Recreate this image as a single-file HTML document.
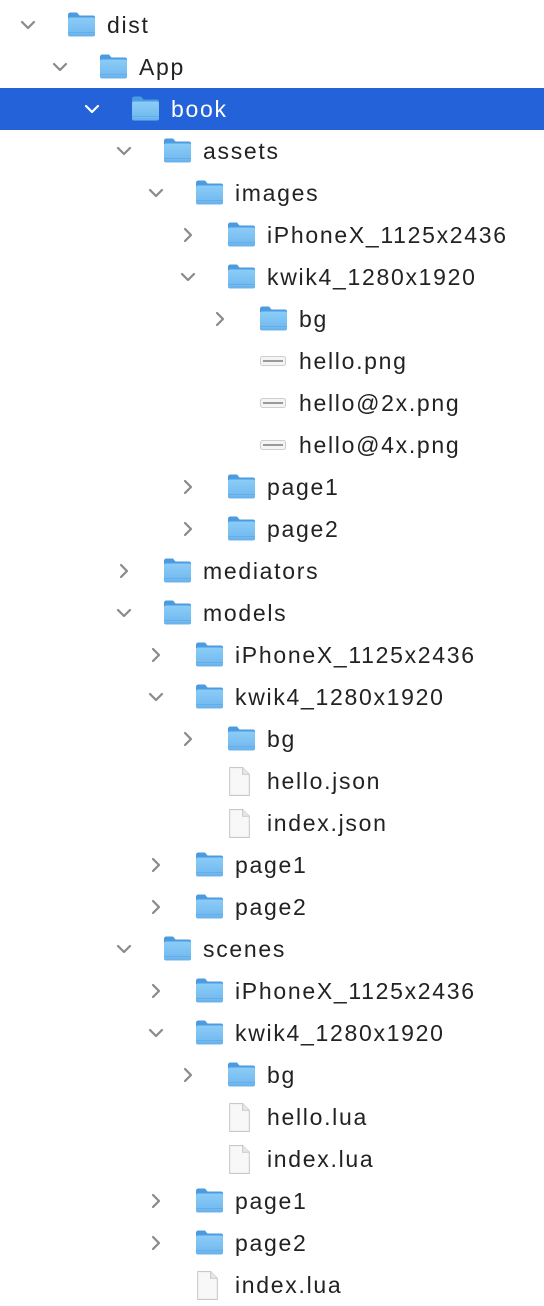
<!DOCTYPE html>
<html><head><meta charset="utf-8"><style>
*{margin:0;padding:0;box-sizing:border-box}
body{width:544px;height:1306px;background:#fff;position:relative;overflow:hidden;font-family:"Liberation Sans",sans-serif}
.r{position:absolute;left:0;width:544px;height:42px}
.sel{background:#2462d9}
.t{position:absolute;top:7px;font-size:23px;letter-spacing:1.7px;line-height:28px;color:#222;white-space:nowrap}
.sel .t{color:#fff}
.c,.f,.d,.p{position:absolute}
.c{top:13px}
.f{top:7px}
.d{top:6px}
.p{top:16px}
</style></head><body>
<svg width="0" height="0" style="position:absolute">
<defs>
<linearGradient id="g" x1="0" y1="0" x2="0" y2="1"><stop offset="0" stop-color="#8ccdf7"/><stop offset="1" stop-color="#6db6ee"/></linearGradient>
<symbol id="fold" viewBox="0 0 29 26"><path d="M1 3.5Q1 1 3.5 1H10l2.5 3H26q2 0 2 2V8H1z" fill="#4b9be0"/><rect x="1" y="6" width="27" height="19" rx="2" fill="url(#g)"/><rect x="1" y="20.5" width="27" height="1" fill="#5aa5e3" opacity=".6"/><rect x="1" y="23" width="27" height="1" fill="#5aa5e3" opacity=".5"/></symbol>
<symbol id="down" viewBox="0 0 16 16"><path d="M2 5l6 6 6-6" fill="none" stroke="#8a8a8a" stroke-width="2.2" stroke-linecap="round" stroke-linejoin="round"/></symbol>
<symbol id="downw" viewBox="0 0 16 16"><path d="M2 5l6 6 6-6" fill="none" stroke="#fff" stroke-width="2.2" stroke-linecap="round" stroke-linejoin="round"/></symbol>
<symbol id="right" viewBox="0 0 16 16"><path d="M5 2l6 6-6 6" fill="none" stroke="#8a8a8a" stroke-width="2.2" stroke-linecap="round" stroke-linejoin="round"/></symbol>
<symbol id="doc" viewBox="0 0 22 30"><path d="M1.5 1.5H14l6.5 6.5v20.5H1.5z" fill="#f8f8f8" stroke="#c8c8c8"/><path d="M14 1.5V8h6.5" fill="#e8e8e8" stroke="#c8c8c8"/></symbol>
<symbol id="png" viewBox="0 0 26 10"><rect x=".5" y=".5" width="25" height="9" rx="2" fill="#f4f4f4" stroke="#cfcfcf"/><rect x="3" y="4" width="20" height="2" fill="#9a9a9a"/></symbol>
</defs></svg>

<div id="tree"></div>
<script>
var rows=[
[0,'fd','dist'],[1,'fd','App'],[2,'fd','book',1],[3,'fd','assets'],[4,'fd','images'],
[5,'fr','iPhoneX_1125x2436'],[5,'fd','kwik4_1280x1920'],[6,'fr','bg'],
[6,'png','hello.png'],[6,'png','hello@2x.png'],[6,'png','hello@4x.png'],
[5,'fr','page1'],[5,'fr','page2'],[3,'fr','mediators'],[3,'fd','models'],
[4,'fr','iPhoneX_1125x2436'],[4,'fd','kwik4_1280x1920'],[5,'fr','bg'],
[5,'doc','hello.json'],[5,'doc','index.json'],[4,'fr','page1'],[4,'fr','page2'],
[3,'fd','scenes'],[4,'fr','iPhoneX_1125x2436'],[4,'fd','kwik4_1280x1920'],[5,'fr','bg'],
[5,'doc','hello.lua'],[5,'doc','index.lua'],[4,'fr','page1'],[4,'fr','page2'],[4,'doc','index.lua']];
var h='';
rows.forEach(function(r,i){
 var L=r[0],ty=r[1],n=r[2],s=r[3];
 var top=4+42*i, cx=20+32*L, ix=67+32*L, tx=107+32*L;
 h+='<div class="r'+(s?' sel':'')+'" style="top:'+top+'px">';
 if(ty=='fd') h+='<svg class="c" style="left:'+cx+'px" width="16" height="16"><use href="#'+(s?'downw':'down')+'"/></svg>';
 if(ty=='fr') h+='<svg class="c" style="left:'+cx+'px" width="16" height="16"><use href="#right"/></svg>';
 if(ty=='fd'||ty=='fr') h+='<svg class="f" style="left:'+ix+'px" width="29" height="27"><use href="#fold"/></svg>';
 if(ty=='doc') h+='<svg class="d" style="left:'+(ix+1)+'px" width="23" height="31"><use href="#doc"/></svg>';
 if(ty=='png') h+='<svg class="p" style="left:'+(ix+1)+'px" width="26" height="10"><use href="#png"/></svg>';
 h+='<div class="t" style="left:'+tx+'px">'+n+'</div></div>';
});
document.getElementById('tree').innerHTML=h;
</script>
</body></html>
